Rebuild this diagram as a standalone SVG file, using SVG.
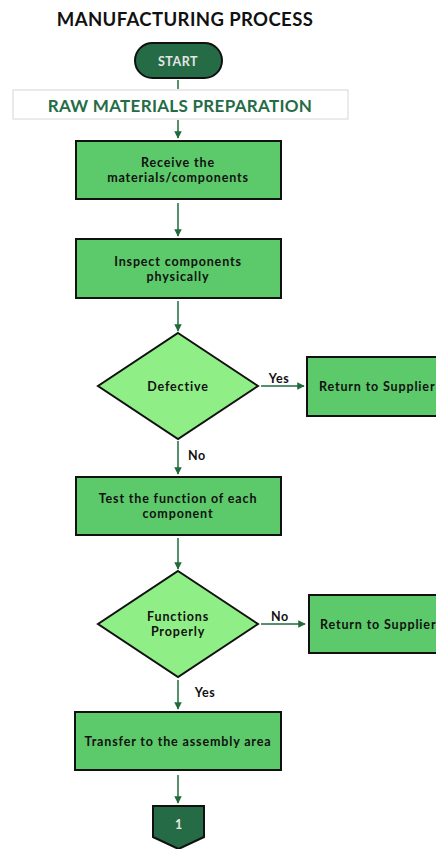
<svg xmlns="http://www.w3.org/2000/svg" width="436" height="849" viewBox="0 0 436 849">
<style>
text{font-family:Lato,"Open Sans","Liberation Sans",sans-serif;font-weight:bold;text-anchor:middle;dominant-baseline:central}
.box{fill:#5cc96a;stroke:#111;stroke-width:2}
.dia{fill:#90ee86;stroke:#111;stroke-width:2}
.dark{fill:#256b45;stroke:#111;stroke-width:2}
.t{font-size:12.5px;fill:#111;letter-spacing:0.85px}
.lbl{font-size:12.5px;fill:#111;letter-spacing:0.6px}
.c{stroke:#1f6b3c;stroke-width:1.5;fill:none}
</style>
<defs>
<marker id="ah" viewBox="0 0 10 10" refX="9" refY="5" markerWidth="5" markerHeight="5" orient="auto">
<path d="M0,0 L10,5 L0,10 z" fill="#1f6b3c"/>
</marker>
</defs>
<rect width="436" height="849" fill="#fff"/>
<text x="185" y="19" style="font-size:18.5px;fill:#111;letter-spacing:0.4px">MANUFACTURING PROCESS</text>
<g id="start">
<rect class="dark" x="135" y="43" width="87" height="35" rx="17.5"/>
<text x="178" y="61" style="font-size:12.5px;fill:#e6e6e6;letter-spacing:0.5px">START</text>
</g>
<g id="banner">
<rect x="13" y="90" width="335" height="29" fill="#fff" stroke="#d6d6d6" stroke-width="1"/>
<text x="180" y="105" style="font-size:17px;fill:#256b45;letter-spacing:0.3px">RAW MATERIALS PREPARATION</text>
</g>
<g id="receive">
<rect class="box" x="76" y="141" width="205" height="58"/>
<text class="t" x="178" y="162.5">Receive the</text>
<text class="t" x="178" y="177.5">materials/components</text>
</g>
<g id="inspect">
<rect class="box" x="76" y="239" width="205" height="59"/>
<text class="t" x="178" y="261.5">Inspect components</text>
<text class="t" x="178" y="276.5">physically</text>
</g>
<g id="defective">
<polygon class="dia" points="178,333 258,386 178,439 98,386"/>
<text class="t" x="178" y="386">Defective</text>
</g>
<g id="return1">
<rect class="box" x="307" y="357" width="140" height="59"/>
<text class="t" x="319" y="386" style="text-anchor:start">Return to Supplier</text>
</g>
<g id="test">
<rect class="box" x="76" y="477" width="205" height="58"/>
<text class="t" x="178" y="498.5">Test the function of each</text>
<text class="t" x="178" y="513.5">component</text>
</g>
<g id="functions">
<polygon class="dia" points="178,571 258,624 178,677 98,624"/>
<text class="t" x="178" y="616">Functions</text>
<text class="t" x="178" y="631">Properly</text>
</g>
<g id="return2">
<rect class="box" x="309" y="595" width="140" height="58"/>
<text class="t" x="320" y="624" style="text-anchor:start">Return to Supplier</text>
</g>
<g id="transfer">
<rect class="box" x="75" y="712" width="206" height="58"/>
<text class="t" x="178" y="741">Transfer to the assembly area</text>
</g>
<g id="connector1">
<polygon class="dark" points="153,806 204,806 204,837 178.5,849 153,837"/>
<text x="178.5" y="824" style="font-size:12.5px;fill:#e6e6e6">1</text>
</g>
<g id="connectors">
<line class="c" x1="178" y1="80" x2="178" y2="89"/>
<line class="c" x1="178" y1="120" x2="178" y2="138" marker-end="url(#ah)"/>
<line class="c" x1="178" y1="203" x2="178" y2="236" marker-end="url(#ah)"/>
<line class="c" x1="178" y1="301" x2="178" y2="331" marker-end="url(#ah)"/>
<line class="c" x1="261" y1="386" x2="304" y2="386" marker-end="url(#ah)"/>
<line class="c" x1="178" y1="441" x2="178" y2="474" marker-end="url(#ah)"/>
<line class="c" x1="178" y1="538" x2="178" y2="569" marker-end="url(#ah)"/>
<line class="c" x1="261" y1="624" x2="305" y2="624" marker-end="url(#ah)"/>
<line class="c" x1="178" y1="680" x2="178" y2="709" marker-end="url(#ah)"/>
<line class="c" x1="178" y1="775" x2="178" y2="803" marker-end="url(#ah)"/>
<text class="lbl" x="279" y="378">Yes</text>
<text class="lbl" x="197" y="455">No</text>
<text class="lbl" x="280" y="616">No</text>
<text class="lbl" x="205" y="692">Yes</text>
</g>
</svg>
